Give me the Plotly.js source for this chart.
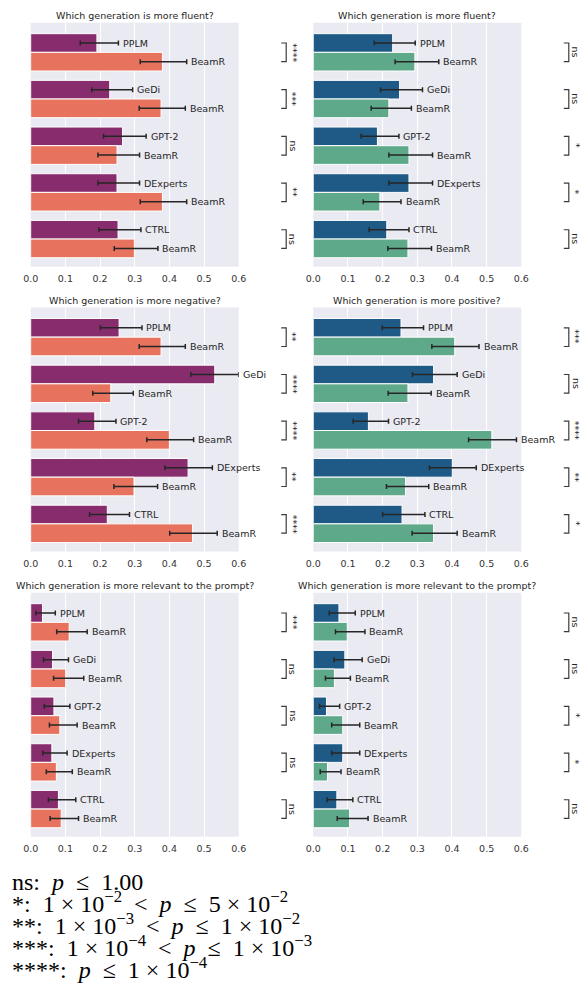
<!DOCTYPE html>
<html>
<head>
<meta charset="utf-8">
<script src="https://cdn.plot.ly/plotly-3.0.1.min.js"></script>
<style>
  html, body { margin: 0; padding: 0; background: #ffffff; }
  #chart { width: 581px; height: 1000px; }
</style>
</head>
<body>
<div id="chart"></div>
<script>
// Steering methods compared against BeamR, top to bottom in every panel
const models = ["PPLM", "GeDi", "GPT-2", "DExperts", "CTRL"];
const baselineName = "BeamR";

// Negative steering: fluency (share of wins, with 95% CI bounds)
const negFluentModel     = [0.191, 0.228, 0.265, 0.249, 0.252];
const negFluentModelLow  = [0.143, 0.176, 0.210, 0.194, 0.197];
const negFluentModelHigh = [0.253, 0.294, 0.333, 0.314, 0.318];
const negFluentBeam      = [0.380, 0.376, 0.249, 0.380, 0.299];
const negFluentBeamLow   = [0.316, 0.313, 0.194, 0.316, 0.241];
const negFluentBeamHigh  = [0.450, 0.446, 0.314, 0.450, 0.367];
const negFluentSig       = ["****", "***", "ns", "**", "ns"];

// Positive steering: fluency
const posFluentModel     = [0.229, 0.249, 0.185, 0.276, 0.212];
const posFluentModelLow  = [0.176, 0.194, 0.138, 0.218, 0.161];
const posFluentModelHigh = [0.294, 0.315, 0.247, 0.344, 0.276];
const posFluentBeam      = [0.293, 0.218, 0.276, 0.192, 0.273];
const posFluentBeamLow   = [0.236, 0.167, 0.218, 0.144, 0.215];
const posFluentBeamHigh  = [0.362, 0.283, 0.344, 0.253, 0.341];
const posFluentSig       = ["ns", "ns", "*", "*", "ns"];

// Negative steering: which output is more negative
const negToneModel     = [0.255, 0.531, 0.185, 0.454, 0.221];
const negToneModelLow  = [0.201, 0.462, 0.138, 0.387, 0.170];
const negToneModelHigh = [0.321, 0.600, 0.246, 0.524, 0.285];
const negToneBeam      = [0.376, 0.231, 0.400, 0.298, 0.467];
const negToneBeamLow   = [0.313, 0.179, 0.335, 0.240, 0.401];
const negToneBeamHigh  = [0.446, 0.296, 0.470, 0.366, 0.538];
const negToneSig       = ["**", "****", "****", "**", "****"];

// Positive steering: which output is more positive
const posToneModel     = [0.253, 0.347, 0.159, 0.401, 0.256];
const posToneModelLow  = [0.199, 0.286, 0.115, 0.335, 0.200];
const posToneModelHigh = [0.318, 0.415, 0.217, 0.470, 0.322];
const posToneBeam      = [0.408, 0.273, 0.515, 0.266, 0.347];
const posToneBeamLow   = [0.342, 0.216, 0.448, 0.211, 0.285];
const posToneBeamHigh  = [0.478, 0.340, 0.586, 0.333, 0.415];
const posToneSig       = ["***", "ns", "****", "**", "*"];

// Negative steering: relevance to the prompt
const negRelevantModel     = [0.034, 0.063, 0.067, 0.061, 0.080];
const negRelevantModelLow  = [0.015, 0.037, 0.039, 0.035, 0.051];
const negRelevantModelHigh = [0.071, 0.109, 0.113, 0.105, 0.130];
const negRelevantBeam      = [0.111, 0.101, 0.084, 0.074, 0.088];
const negRelevantBeamLow   = [0.075, 0.066, 0.054, 0.045, 0.056];
const negRelevantBeamHigh  = [0.163, 0.153, 0.134, 0.120, 0.138];
const negRelevantSig       = ["***", "ns", "ns", "ns", "ns"];

// Positive steering: relevance to the prompt
const posRelevantModel     = [0.074, 0.091, 0.038, 0.085, 0.068];
const posRelevantModelLow  = [0.046, 0.060, 0.018, 0.053, 0.040];
const posRelevantModelHigh = [0.121, 0.141, 0.076, 0.134, 0.114];
const posRelevantBeam      = [0.098, 0.061, 0.085, 0.041, 0.105];
const posRelevantBeamLow   = [0.064, 0.035, 0.053, 0.020, 0.069];
const posRelevantBeamHigh  = [0.149, 0.107, 0.134, 0.080, 0.158];
const posRelevantSig       = ["ns", "ns", "*", "*", "ns"];

const xTicks = [0, 0.1, 0.2, 0.3, 0.4, 0.5, 0.6];
const xTickText = ["0.0", "0.1", "0.2", "0.3", "0.4", "0.5", "0.6"];

// p-value key; en spaces around relations, quarter-em spaces around the times sign
const SP = "\u2002", QS = "\u2005";
const legendLines = [
  `ns:${SP}<i>p</i>${SP}\u2264${SP}1.00`,
  `*:${SP}1${QS}\u00d7${QS}10<sup>\u22122</sup>${SP}&lt;${SP}<i>p</i>${SP}\u2264${SP}5${QS}\u00d7${QS}10<sup>\u22122</sup>`,
  `**:${SP}1${QS}\u00d7${QS}10<sup>\u22123</sup>${SP}&lt;${SP}<i>p</i>${SP}\u2264${SP}1${QS}\u00d7${QS}10<sup>\u22122</sup>`,
  `***:${SP}1${QS}\u00d7${QS}10<sup>\u22124</sup>${SP}&lt;${SP}<i>p</i>${SP}\u2264${SP}1${QS}\u00d7${QS}10<sup>\u22123</sup>`,
  `****:${SP}<i>p</i>${SP}\u2264${SP}1${QS}\u00d7${QS}10<sup>\u22124</sup>`
];

// ---- panel table ----
const palettes = [
  { model: "#872d6d", beam: "#e7725d" },   // left column
  { model: "#1f5a87", beam: "#5fa98b" }    // right column
];

const panels = [
  { row: 0, col: 0, title: "Which generation is more fluent?",
    m: negFluentModel, mLo: negFluentModelLow, mHi: negFluentModelHigh,
    b: negFluentBeam, bLo: negFluentBeamLow, bHi: negFluentBeamHigh, sig: negFluentSig },
  { row: 0, col: 1, title: "Which generation is more fluent?",
    m: posFluentModel, mLo: posFluentModelLow, mHi: posFluentModelHigh,
    b: posFluentBeam, bLo: posFluentBeamLow, bHi: posFluentBeamHigh, sig: posFluentSig },
  { row: 1, col: 0, title: "Which generation is more negative?",
    m: negToneModel, mLo: negToneModelLow, mHi: negToneModelHigh,
    b: negToneBeam, bLo: negToneBeamLow, bHi: negToneBeamHigh, sig: negToneSig },
  { row: 1, col: 1, title: "Which generation is more positive?",
    m: posToneModel, mLo: posToneModelLow, mHi: posToneModelHigh,
    b: posToneBeam, bLo: posToneBeamLow, bHi: posToneBeamHigh, sig: posToneSig },
  { row: 2, col: 0, title: "Which generation is more relevant to the prompt?",
    m: negRelevantModel, mLo: negRelevantModelLow, mHi: negRelevantModelHigh,
    b: negRelevantBeam, bLo: negRelevantBeamLow, bHi: negRelevantBeamHigh, sig: negRelevantSig },
  { row: 2, col: 1, title: "Which generation is more relevant to the prompt?",
    m: posRelevantModel, mLo: posRelevantModelLow, mHi: posRelevantModelHigh,
    b: posRelevantBeam, bLo: posRelevantBeamLow, bHi: posRelevantBeamHigh, sig: posRelevantSig }
];

// ---- geometry (pixels) ----
const W = 581, H = 1000;
const colPx = [[30.7, 238.7], [313.3, 521.3]];
const rowPx = [[22.7, 266.7], [307.5, 551.5], [592.7, 836.7]];
const pairStep = 2.5;          // spacing between method pairs on the category axis
const yRange = [11.98, -1.088];
const bracketOffset = 47.5;    // distance of the significance bracket from the plot edge
const bracketTick = 5;

const FONT = "DejaVu Sans, Verdana, sans-serif";
const TEXT = "#262626";

const traces = [];
const annotations = [];
const shapes = [];
const layout = {
  width: W, height: H,
  margin: { l: 0, r: 0, t: 0, b: 0 },
  paper_bgcolor: "#ffffff",
  plot_bgcolor: "#eaeaf2",
  showlegend: false,
  barmode: "overlay",
  font: { family: FONT, size: 9.5, color: TEXT },
  hovermode: false
};

const diff = (a, b) => a.map((v, i) => v - b[i]);

panels.forEach((p, k) => {
  const n = k + 1;
  const xId = n === 1 ? "x" : "x" + n;
  const yId = n === 1 ? "y" : "y" + n;
  const xKey = n === 1 ? "xaxis" : "xaxis" + n;
  const yKey = n === 1 ? "yaxis" : "yaxis" + n;
  const [l, r] = colPx[p.col];
  const [t, b] = rowPx[p.row];
  const col = palettes[p.col];

  layout[xKey] = {
    domain: [l / W, r / W], anchor: yId,
    range: [0, 0.6], tickvals: xTicks, ticktext: xTickText,
    showgrid: true, gridcolor: "#ffffff", gridwidth: 1,
    zeroline: false, showline: false, ticks: "",
    ticklabelstandoff: 5,
    tickfont: { family: FONT, size: 9.5, color: "#333333" }
  };
  layout[yKey] = {
    domain: [1 - b / H, 1 - t / H], anchor: xId,
    range: yRange, showticklabels: false, showgrid: false,
    zeroline: false, showline: false, ticks: ""
  };

  const modelPos = models.map((_, i) => i * pairStep);
  const beamPos = models.map((_, i) => i * pairStep + 1);

  const errStyle = { type: "data", symmetric: false, color: "#262626", thickness: 1.5, width: 2.5 };

  traces.push({
    type: "bar", orientation: "h", x: p.m, y: modelPos, width: 1,
    xaxis: xId, yaxis: yId,
    marker: { color: col.model, line: { color: "#ffffff", width: 1 } },
    error_x: Object.assign({ array: diff(p.mHi, p.m), arrayminus: diff(p.m, p.mLo) }, errStyle),
    hoverinfo: "skip"
  });
  traces.push({
    type: "bar", orientation: "h", x: p.b, y: beamPos, width: 1,
    xaxis: xId, yaxis: yId,
    marker: { color: col.beam, line: { color: "#ffffff", width: 1 } },
    error_x: Object.assign({ array: diff(p.bHi, p.b), arrayminus: diff(p.b, p.bLo) }, errStyle),
    hoverinfo: "skip"
  });

  // name labels just past the upper CI bound
  models.forEach((name, i) => {
    annotations.push({
      xref: xId, yref: yId, x: p.mHi[i], y: modelPos[i], text: name,
      xanchor: "left", yanchor: "middle", xshift: 2.5, showarrow: false,
      font: { family: FONT, size: 9.5, color: TEXT }
    });
    annotations.push({
      xref: xId, yref: yId, x: p.bHi[i], y: beamPos[i], text: baselineName,
      xanchor: "left", yanchor: "middle", xshift: 2.5, showarrow: false,
      font: { family: FONT, size: 9.5, color: TEXT }
    });

    // significance bracket between the two bars of the pair
    const xr = (r + bracketOffset) / W;
    const xt = (r + bracketOffset - bracketTick) / W;
    shapes.push({
      type: "path", xref: "paper", yref: yId,
      path: `M ${xt},${modelPos[i]} L ${xr},${modelPos[i]} L ${xr},${beamPos[i]} L ${xt},${beamPos[i]}`,
      line: { color: "#3a3a3a", width: 1.2 }
    });
    annotations.push({
      xref: "paper", yref: yId, x: (r + bracketOffset + 7) / W, y: (modelPos[i] + beamPos[i]) / 2,
      text: p.sig[i], textangle: 90, xanchor: "center", yanchor: "middle", showarrow: false,
      font: { family: FONT, size: 9.5, color: TEXT }
    });
  });

  // panel title
  annotations.push({
    xref: "paper", yref: "paper", x: (l + r) / 2 / W, y: 1 - t / H,
    text: p.title, xanchor: "center", yanchor: "bottom", showarrow: false,
    font: { family: FONT, size: 9.5, color: TEXT }
  });
});

// p-value key below the panels
legendLines.forEach((line, i) => {
  const baseline = 889.5 + i * 22;
  annotations.push({
    xref: "paper", yref: "paper", x: 10 / W, y: 1 - (baseline + 7.5) / H,
    text: line, xanchor: "left", yanchor: "bottom", showarrow: false,
    font: { family: "Liberation Serif, Times New Roman, serif", size: 24, color: "#000000" }
  });
});

layout.annotations = annotations;
layout.shapes = shapes;

Plotly.newPlot("chart", traces, layout, { staticPlot: true, displayModeBar: false });
</script>
</body>
</html>
